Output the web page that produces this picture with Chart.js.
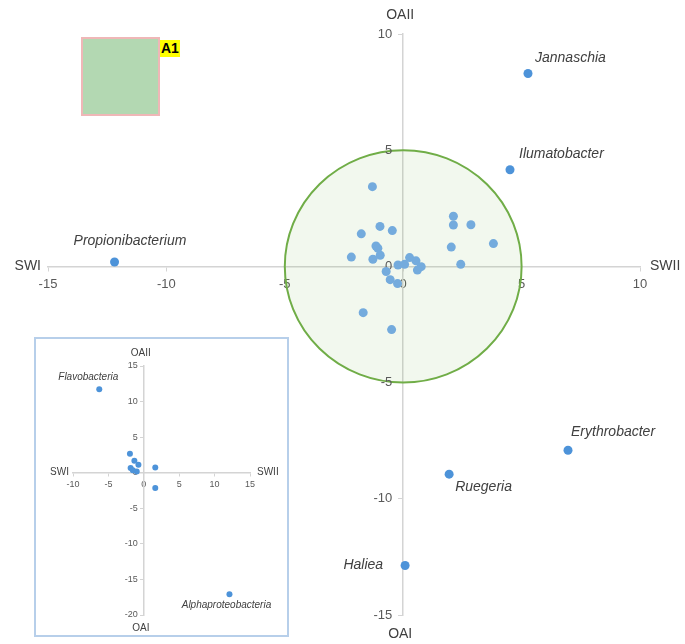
<!DOCTYPE html>
<html>
<head>
<meta charset="utf-8">
<script src="https://cdn.jsdelivr.net/npm/chart.js@4.4.0/dist/chart.umd.min.js"></script>
<style>
    body { margin: 0; background: #fff; font-family: "Liberation Sans", Arial, sans-serif; }
    #wrap { position: relative; width: 685px; height: 644px; overflow: hidden; }
    #main { position: absolute; left: 0; top: 0; }
    #a1box { position: absolute; left: 81px; top: 37px; width: 75px; height: 75px; background: #b3d8b2; border: 2px solid #efb7b7; }
    #a1tag { position: absolute; left: 160px; top: 40px; height: 17px; line-height: 17px; padding: 0 1px; background: #ffff00; font: bold 14px "Liberation Sans", Arial, sans-serif; color: #000; }
    #inset { position: absolute; left: 34px; top: 337px; width: 251px; height: 296px; border: 2px solid #b7cfea; background: #fff; }
    #insetCanvas { position: absolute; left: 0; top: 0; }
</style>
</head>
<body>
<div id="wrap">
    <canvas id="main" width="685" height="644"></canvas>
    <div id="a1box"></div>
    <div id="a1tag">A1</div>
    <div id="inset"><canvas id="insetCanvas" width="251" height="296"></canvas></div>
</div>
<script>
// main plot: taxa inside the circle
const clusterX = [-1.30, 2.12, 2.12, 2.86, -0.98, -0.46, -1.77, 3.81, 2.03, -1.15, -1.07, -0.97, -2.19, -1.28, 2.43, -0.22, 0.06, 0.27, 0.54, 0.76, 0.60, -0.72, -0.55, -0.24, -1.69, -0.49];
const clusterY = [3.43, 2.16, 1.78, 1.79, 1.72, 1.54, 1.40, 0.98, 0.83, 0.88, 0.78, 0.48, 0.40, 0.31, 0.09, 0.06, 0.09, 0.38, 0.24, -0.01, -0.16, -0.22, -0.57, -0.74, -1.99, -2.72];

// main plot: named taxa
const taxaNames = ['Jannaschia', 'Ilumatobacter', 'Propionibacterium', 'Erythrobacter', 'Ruegeria', 'Haliea'];
const taxaX = [5.27, 4.51, -12.19, 6.96, 1.94, 0.08];
const taxaY = [8.30, 4.16, 0.19, -7.91, -8.94, -12.87];

const mainTicks = [-15, -10, -5, 0, 5, 10];
const circleRadius = 5;
const axisNames = { left: 'SWI', right: 'SWII', top: 'OAII', bottom: 'OAI' };

// inset plot
const insetOtherX = [-1.96, -1.33, -0.76, -1.86, -1.00, -1.55, 1.62, 1.62];
const insetOtherY = [2.66, 1.68, 1.12, 0.66, 0.18, 0.35, 0.75, -2.15];
const insetNames = ['Flavobacteria', 'Alphaproteobacteria'];
const insetNamedX = [-6.29, 12.1];
const insetNamedY = [11.74, -17.1];
const insetTicksX = [-10, -5, 0, 5, 10, 15];
const insetTicksY = [-20, -15, -10, -5, 0, 5, 10, 15];

// label placement (pixel offsets from the point) - styling only
const taxaLabelStyle = [
    { dx: 7, dy: -15, align: 'left' },
    { dx: 9, dy: -16, align: 'left' },
    { dx: -41, dy: -21, align: 'left' },
    { dx: 3, dy: -18, align: 'left' },
    { dx: 6, dy: 13, align: 'left' },
    { dx: -22, dy: 0, align: 'right' }
];
const insetLabelStyle = [
    { dx: -41, dy: -12, align: 'left' },
    { dx: -3, dy: 11, align: 'center' }
];

const toPoints = (xs, ys) => xs.map((x, i) => ({ x: x, y: ys[i] }));

const circlePlugin = {
    id: 'circle',
    beforeDatasetsDraw(chart, args, opts) {
        if (!opts.radius) return;
        const { ctx, scales: { x, y } } = chart;
        const cx = x.getPixelForValue(0), cy = y.getPixelForValue(0);
        const rx = x.getPixelForValue(opts.radius) - cx;
        const ry = cy - y.getPixelForValue(opts.radius);
        ctx.save();
        ctx.beginPath();
        ctx.ellipse(cx, cy, rx, ry, 0, 0, Math.PI * 2);
        ctx.fillStyle = 'rgba(112, 173, 71, 0.09)';
        ctx.fill();
        ctx.lineWidth = 2;
        ctx.strokeStyle = '#70ad47';
        ctx.stroke();
        ctx.restore();
    }
};

// y tick labels, placed left of the crossing axis (chart.js ignores padding there)
const yLabelsPlugin = {
    id: 'yLabels',
    beforeDatasetsDraw(chart, args, opts) {
        const { ctx, scales: { x, y } } = chart;
        const ax = x.getPixelForValue(0);
        ctx.save();
        ctx.font = opts.font;
        ctx.fillStyle = '#595959';
        ctx.textAlign = 'right';
        ctx.textBaseline = 'middle';
        y.ticks.forEach(t => {
            ctx.fillText(String(t.value), ax - opts.gap, y.getPixelForValue(t.value));
        });
        ctx.restore();
    }
};

const labelsPlugin = {
    id: 'names',
    afterDatasetsDraw(chart, args, opts) {
        const { ctx } = chart;
        const meta = chart.getDatasetMeta(opts.dataset);
        ctx.save();
        ctx.font = opts.font;
        ctx.fillStyle = '#404040';
        ctx.textBaseline = 'middle';
        opts.names.forEach((name, i) => {
            const el = meta.data[i];
            const st = opts.style[i];
            ctx.textAlign = st.align;
            ctx.fillText(name, el.x + st.dx, el.y + st.dy);
        });
        ctx.restore();
    }
};

const axisTitlePlugin = {
    id: 'axisTitles',
    afterDraw(chart, args, opts) {
        const { ctx, chartArea, scales: { x, y } } = chart;
        const ox = x.getPixelForValue(0), oy = y.getPixelForValue(0);
        ctx.save();
        ctx.font = opts.font;
        ctx.fillStyle = '#404040';
        ctx.textBaseline = 'middle';
        ctx.textAlign = 'right';
        ctx.fillText(axisNames.left, chartArea.left - opts.gapX, oy);
        ctx.textAlign = 'left';
        ctx.fillText(axisNames.right, chartArea.right + opts.gapX + 3, oy);
        ctx.textAlign = 'center';
        ctx.fillText(axisNames.top, ox - 3, chartArea.top - opts.gapY);
        ctx.fillText(axisNames.bottom, ox - 3, chartArea.bottom + opts.gapY);
        ctx.restore();
    }
};

function crossScales(ticksX, ticksY, fontSize, tickLen, pad) {
    const common = (ticks) => ({
        type: 'linear',
        min: ticks[0],
        max: ticks[ticks.length - 1],
        afterBuildTicks: s => { s.ticks = ticks.map(v => ({ value: v })); },
        grid: { drawOnChartArea: false, drawTicks: true, tickLength: tickLen, color: '#d4d4d4', lineWidth: 1 },
        border: { display: true, color: '#d4d4d4', width: 1.5 },
        ticks: { color: '#595959', padding: pad, font: { size: fontSize, family: '"Liberation Sans", Arial, sans-serif' } }
    });
    const y = common(ticksY);
    y.ticks.display = false;
    return {
        x: Object.assign(common(ticksX), { position: { y: 0 } }),
        y: Object.assign(y, { position: { x: 0 } })
    };
}

new Chart(document.getElementById('main'), {
    type: 'scatter',
    data: {
        datasets: [
            {
                data: toPoints(clusterX, clusterY),
                backgroundColor: '#74abdd',
                borderWidth: 0,
                pointRadius: 4.5
            },
            {
                data: toPoints(taxaX, taxaY),
                backgroundColor: '#4d93d9',
                borderWidth: 0,
                pointRadius: 4.5
            }
        ]
    },
    options: {
        responsive: false,
        animation: false,
        layout: { padding: { left: 48, right: 45, top: 34, bottom: 29 } },
        scales: crossScales(mainTicks, mainTicks, 13, 4, 6),
        plugins: {
            legend: { display: false },
            tooltip: { enabled: false },
            circle: { radius: circleRadius },
            yLabels: { font: '13px "Liberation Sans", Arial, sans-serif', gap: 11 },
            names: { dataset: 1, names: taxaNames, style: taxaLabelStyle, font: 'italic 14px "Liberation Sans", Arial, sans-serif' },
            axisTitles: { font: '14px "Liberation Sans", Arial, sans-serif', gapX: 7, gapY: 19 }
        }
    },
    plugins: [circlePlugin, yLabelsPlugin, labelsPlugin, axisTitlePlugin]
});

new Chart(document.getElementById('insetCanvas'), {
    type: 'scatter',
    data: {
        datasets: [
            {
                data: toPoints(insetOtherX, insetOtherY),
                backgroundColor: '#4d93d9',
                borderWidth: 0,
                pointRadius: 3
            },
            {
                data: toPoints(insetNamedX, insetNamedY),
                backgroundColor: '#4d93d9',
                borderWidth: 0,
                pointRadius: 3
            }
        ]
    },
    options: {
        responsive: false,
        animation: false,
        layout: { padding: { left: 37, right: 37, top: 27, bottom: 20 } },
        scales: crossScales(insetTicksX, insetTicksY, 9, 3, 3),
        plugins: {
            legend: { display: false },
            tooltip: { enabled: false },
            circle: { radius: 0 },
            yLabels: { font: '9px "Liberation Sans", Arial, sans-serif', gap: 6 },
            names: { dataset: 1, names: insetNames, style: insetLabelStyle, font: 'italic 10px "Liberation Sans", Arial, sans-serif' },
            axisTitles: { font: '10px "Liberation Sans", Arial, sans-serif', gapX: 4, gapY: 13 }
        }
    },
    plugins: [circlePlugin, yLabelsPlugin, labelsPlugin, axisTitlePlugin]
});
</script>
</body>
</html>
